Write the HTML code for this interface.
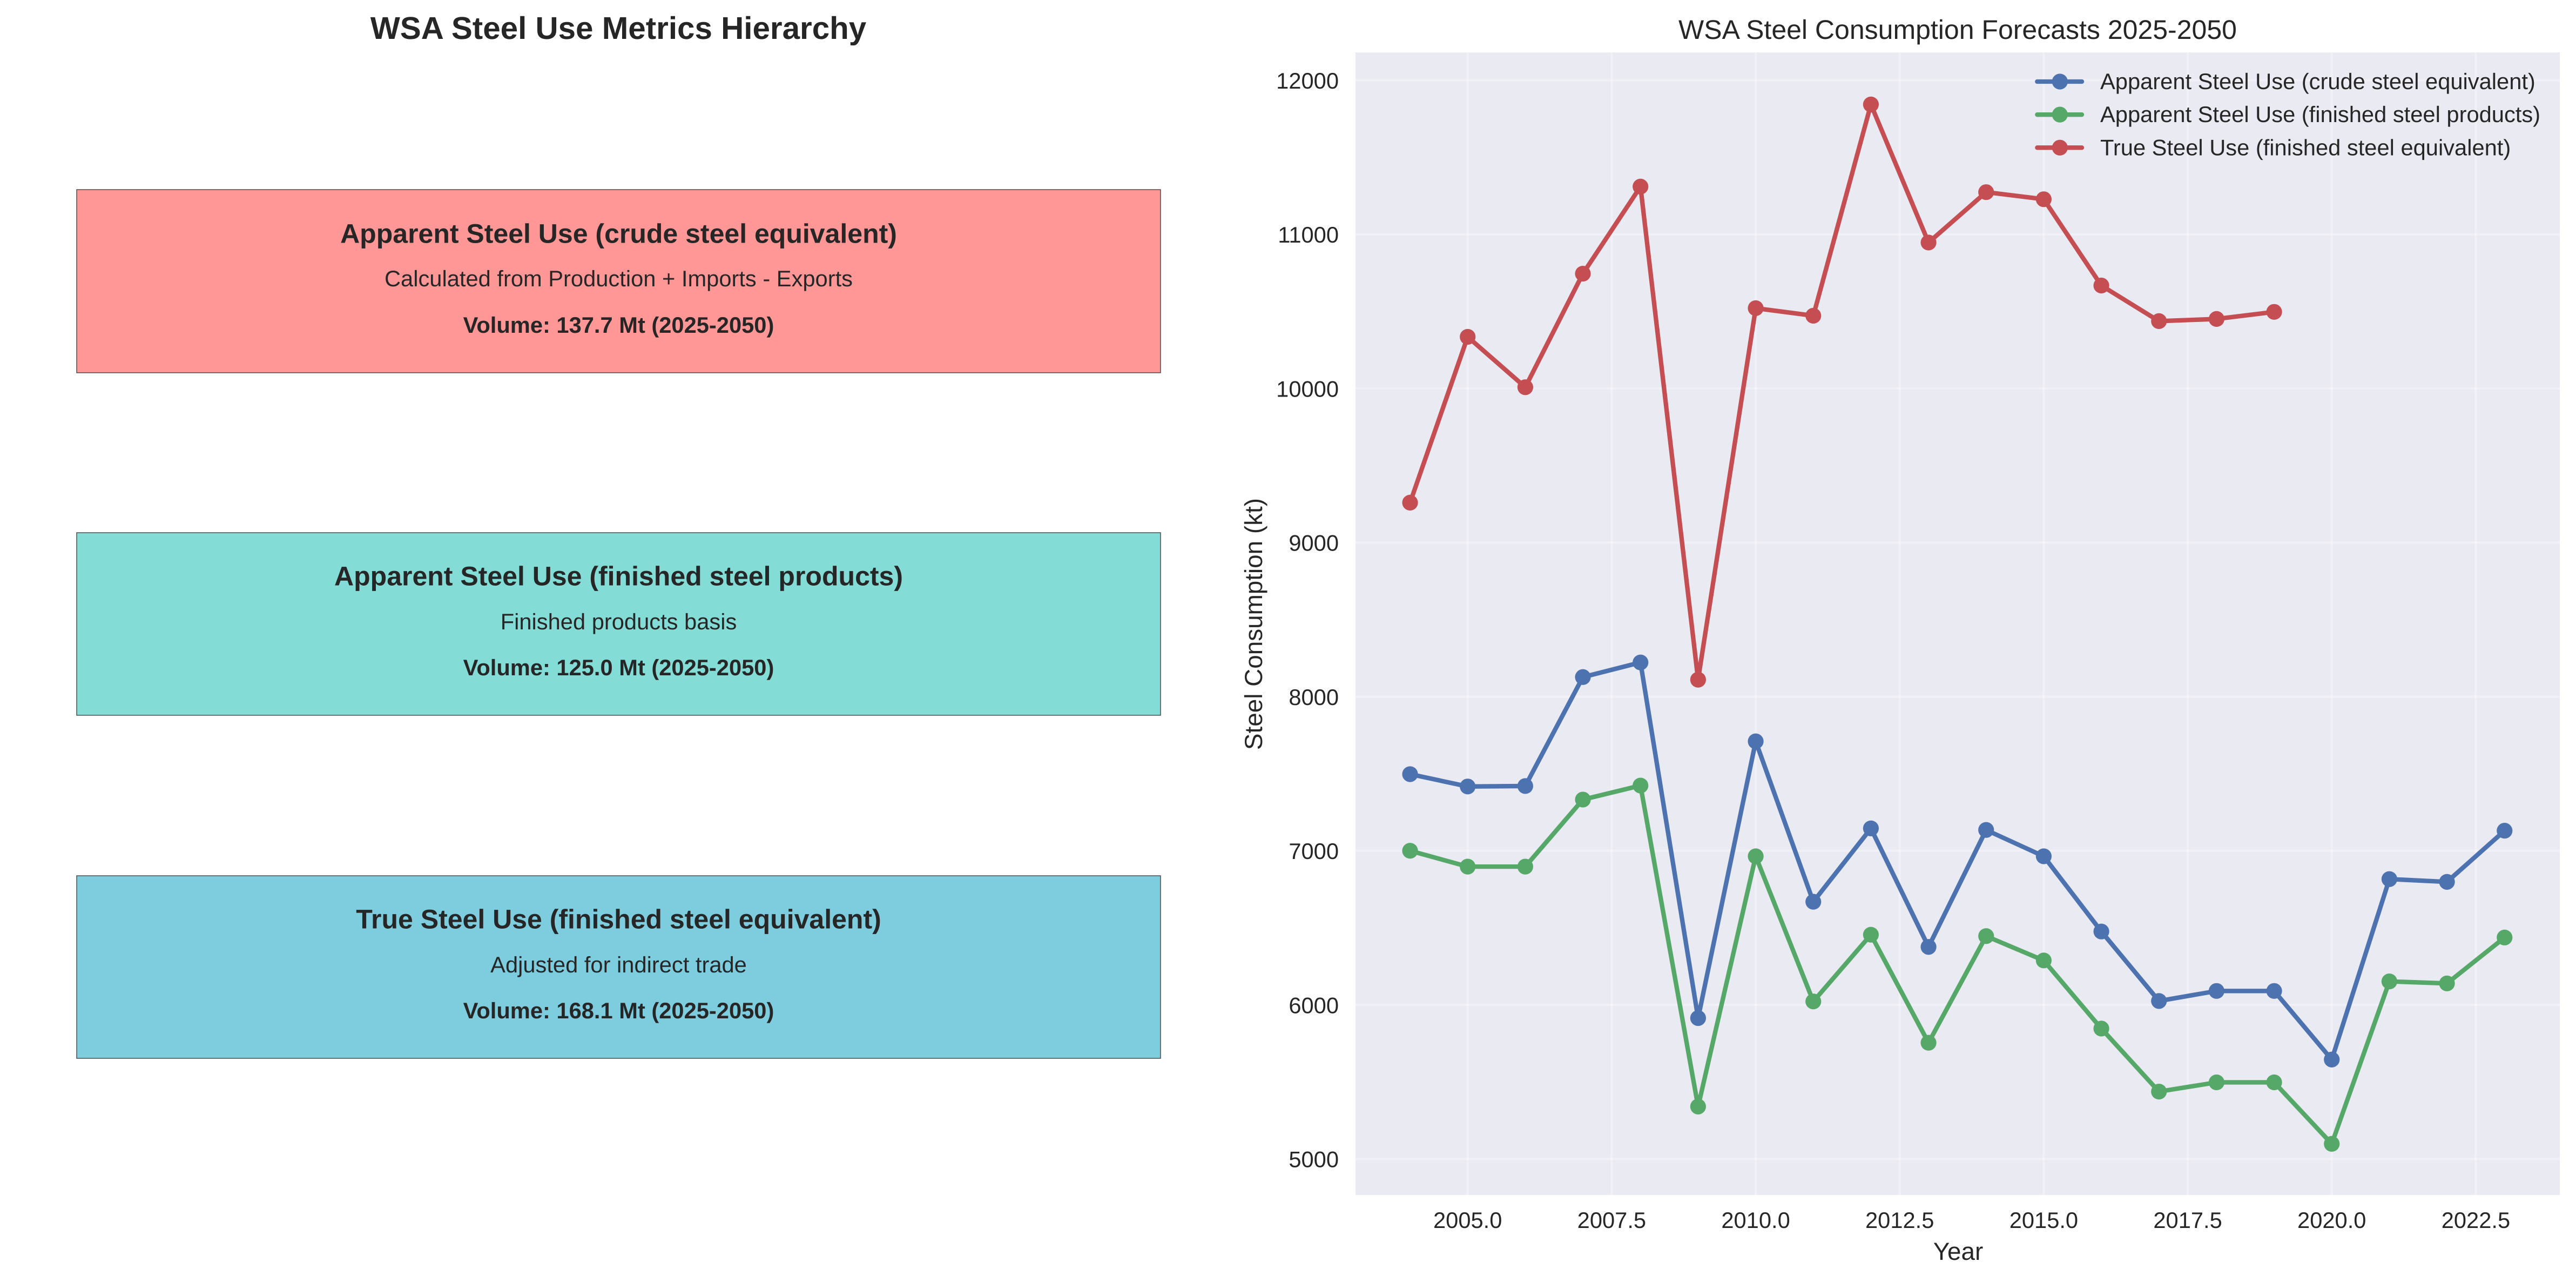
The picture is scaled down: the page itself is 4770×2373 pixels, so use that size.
<!DOCTYPE html>
<html lang="en">
<head>
<meta charset="utf-8">
<title>WSA Steel Use Metrics</title>
<style>
html,body{margin:0;padding:0;background:#fff;width:4770px;height:2373px;overflow:hidden}
svg{display:block;position:absolute;left:0;top:0}
text{font-family:"Liberation Sans",sans-serif;fill:#262626;text-rendering:geometricPrecision}
.b{font-weight:700}
.m{text-anchor:middle}
.t10{font-size:41.67px}
.t11{font-size:45.83px}
.t12{font-size:50px}
.t14{font-size:58.33px}
.box{stroke:#444;stroke-width:1.4}
</style>
</head>
<body>
<svg id="fig" xmlns="http://www.w3.org/2000/svg" width="4770" height="2373" viewBox="0 0 4770 2373">
  <rect x="0" y="0" width="4770" height="2373" fill="#fff"/>
  <text x="1145" y="72" class="b m t14">WSA Steel Use Metrics Hierarchy</text>

  <g>
    <rect x="142" y="351" width="2007" height="339" fill="#FF9797" class="box"/>
    <text x="1145.5" y="449.5" class="b m t12">Apparent Steel Use (crude steel equivalent)</text>
    <text x="1145.5" y="530" class="m t10">Calculated from Production + Imports - Exports</text>
    <text x="1145.5" y="616" class="b m t10">Volume: 137.7 Mt (2025-2050)</text>
  </g>
  <g>
    <rect x="142" y="986" width="2007" height="338" fill="#83DCD6" class="box"/>
    <text x="1145.5" y="1083.5" class="b m t12">Apparent Steel Use (finished steel products)</text>
    <text x="1145.5" y="1165" class="m t10">Finished products basis</text>
    <text x="1145.5" y="1250" class="b m t10">Volume: 125.0 Mt (2025-2050)</text>
  </g>
  <g>
    <rect x="142" y="1621" width="2007" height="338" fill="#7DCDDF" class="box"/>
    <text x="1145.5" y="1718.5" class="b m t12">True Steel Use (finished steel equivalent)</text>
    <text x="1145.5" y="1800" class="m t10">Adjusted for indirect trade</text>
    <text x="1145.5" y="1885" class="b m t10">Volume: 168.1 Mt (2025-2050)</text>
  </g>

  <text x="3625" y="72" class="m t12">WSA Steel Consumption Forecasts 2025-2050</text>
  <rect x="2510" y="97" width="2230" height="2115" fill="#EAEAF2"/>
  <g id="grid"></g>
  <g id="xticks"></g>
  <g id="yticks"></g>
  <g id="series"></g>
  <g id="legend"></g>
  <text x="3626" y="2332" class="m t11">Year</text>
  <text transform="translate(2337,1155) rotate(-90)" class="m t11">Steel Consumption (kt)</text>
</svg>
<script>
const years = [2004,2005,2006,2007,2008,2009,2010,2011,2012,2013,2014,2015,2016,2017,2018,2019,2020,2021,2022,2023];
const crudeSteelValues = [7497,7417,7420,8127,8222,5914,7710,6669,7145,6376,7135,6964,6476,6025,6090,6090,5645,6816,6798,7130];
const finishedProductsValues = [7000,6897,6897,7332,7423,5340,6964,6022,6455,5754,6446,6288,5846,5437,5497,5497,5098,6152,6139,6437];
const trueSteelValues = [9259,10335,10008,10745,11310,8110,10521,10472,11843,10947,11274,11228,10668,10437,10451,10497,null,null,null,null];
const seriesNames = ["Apparent Steel Use (crude steel equivalent)","Apparent Steel Use (finished steel products)","True Steel Use (finished steel equivalent)"];
const xTickValues = [2005,2007.5,2010,2012.5,2015,2017.5,2020,2022.5];
const yTickValues = [5000,6000,7000,8000,9000,10000,11000,12000];

const NS = "http://www.w3.org/2000/svg";
const colors = ["#4C72B0","#55A868","#C44E52"];
const slugs = ["crude-steel","finished-products","true-steel"];
const allValues = [crudeSteelValues, finishedProductsValues, trueSteelValues];
const plot = {left:2510, right:4740, top:97, bottom:2212};

function xScale(v){ return 2717.7 + (v - 2005) * 106.67; }
function yScale(v){ return 2145.2 - (v - 5000) * 0.28523; }
function make(tag, attrs, parent){
  const el = document.createElementNS(NS, tag);
  for (const k in attrs) el.setAttribute(k, attrs[k]);
  parent.appendChild(el);
  return el;
}

const grid = document.getElementById("grid");
const xticks = document.getElementById("xticks");
const yticks = document.getElementById("yticks");
const seriesGroup = document.getElementById("series");
const legend = document.getElementById("legend");

xTickValues.forEach(function(t){
  const line = make("line", {x1:xScale(t), x2:xScale(t), y1:plot.top, y2:plot.bottom, stroke:"#fff", "stroke-opacity":0.3, "stroke-width":4.17}, grid);
  
  
  const label = make("text", {x:xScale(t), y:2273, class:"m t10"}, xticks);
  label.textContent = t.toFixed(1);
  
  
});

yTickValues.forEach(function(t){
  const line = make("line", {x1:plot.left, x2:plot.right, y1:yScale(t), y2:yScale(t), stroke:"#fff", "stroke-opacity":0.3, "stroke-width":4.17}, grid);
  
  
  const label = make("text", {x:2479, y:yScale(t) + 15.3, "text-anchor":"end", class:"t10"}, yticks);
  label.textContent = String(t);
  
  
});

allValues.forEach(function(values, s){
  const group = make("g", {}, seriesGroup);
  
  
  let pts = "";
  years.forEach(function(y, i){
    if (values[i] !== null) pts += xScale(y) + "," + yScale(values[i]) + " ";
  });
  const path = make("polyline", {points:pts.trim(), fill:"none", stroke:colors[s], "stroke-width":8.33, "stroke-linejoin":"round", "stroke-linecap":"round"}, group);
  
  
  years.forEach(function(y, i){
    if (values[i] === null) return;
    const dot = make("circle", {cx:xScale(y), cy:yScale(values[i]), r:14.6, fill:colors[s]}, group);
    
    
  });
});

seriesNames.forEach(function(name, s){
  const cy = 151 + s * 61.15;
  const entry = make("g", {}, legend);
  
  
  const handle = make("line", {x1:3772.3, x2:3855, y1:cy, y2:cy, stroke:colors[s], "stroke-width":8.33, "stroke-linecap":"round"}, entry);
  
  
  const marker = make("circle", {cx:3814.3, cy:cy, r:14.6, fill:colors[s]}, entry);
  
  
  const label = make("text", {x:3889, y:cy + 14, class:"t10"}, entry);
  label.textContent = name;
  
  
});
</script>
</body>
</html>
